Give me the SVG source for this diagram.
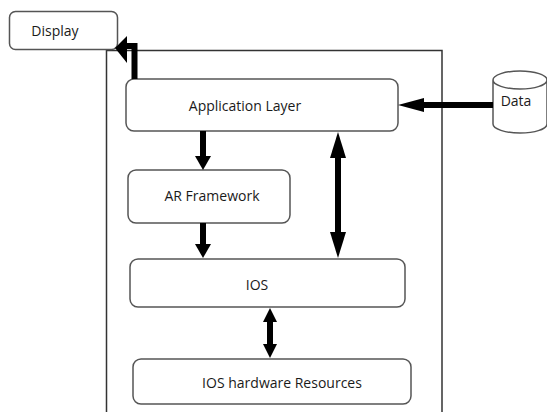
<svg xmlns="http://www.w3.org/2000/svg" width="547" height="412" viewBox="0 0 547 412">
<style>
.box{fill:#fff;stroke:#555;stroke-width:1.5}
.lbl{font-family:"Open Sans","Noto Sans","Liberation Sans",sans-serif;font-size:14px;font-weight:500;fill:#1a1a1a;text-anchor:middle}
.frame{fill:none;stroke:#333;stroke-width:1.5}
.shaft{stroke:#000;stroke-width:6;fill:none}
.head{fill:#000}
</style>
<rect width="547" height="412" fill="#fff"/>
<path class="frame" d="M106.5,412 V50.5 H442 V412"/>
<g id="display"><rect class="box" x="9.5" y="11.5" width="108" height="38" rx="6"/><text class="lbl" x="55" y="36">Display</text></g>
<g id="app"><rect class="box" x="126" y="79" width="272" height="52" rx="8"/><text class="lbl" x="245" y="111">Application Layer</text></g>
<g id="data"><path class="box" d="M493,80 V124 A27,9 0 0 0 547,124 V80 A27,9 0 0 0 493,80 A27,9 0 0 0 547,80"/><text class="lbl" x="516" y="106">Data</text></g>
<g id="ar"><rect class="box" x="128" y="170" width="162" height="53" rx="8"/><text class="lbl" x="212" y="201">AR Framework</text></g>
<g id="ios"><rect class="box" x="130" y="259" width="275" height="48" rx="8"/><text class="lbl" x="257" y="290">IOS</text></g>
<g id="hw"><rect class="box" x="133" y="359" width="278" height="45" rx="8"/><text class="lbl" x="282" y="388">IOS hardware Resources</text></g>
<g id="connectors">
<path class="shaft" d="M134.5,79 V46 H126"/>
<polygon class="head" points="115,48 127,36 127,63"/>
<line class="shaft" x1="493" y1="105" x2="420" y2="105"/>
<polygon class="head" points="398,105 424,98 424,112"/>
<line class="shaft" x1="203" y1="131" x2="203" y2="157"/>
<polygon class="head" points="195,156 211,156 203,170"/>
<line class="shaft" x1="203" y1="223" x2="203" y2="245"/>
<polygon class="head" points="195,244 211,244 203,258"/>
<line class="shaft" x1="338" y1="150" x2="338" y2="240"/>
<polygon class="head" points="338,132 330,158 346,158"/>
<polygon class="head" points="338,258 330,232 346,232"/>
<line class="shaft" x1="270" y1="318" x2="270" y2="348"/>
<polygon class="head" points="270,308 263,322 277,322"/>
<polygon class="head" points="270,358 263,344 277,344"/>
</g>
</svg>
